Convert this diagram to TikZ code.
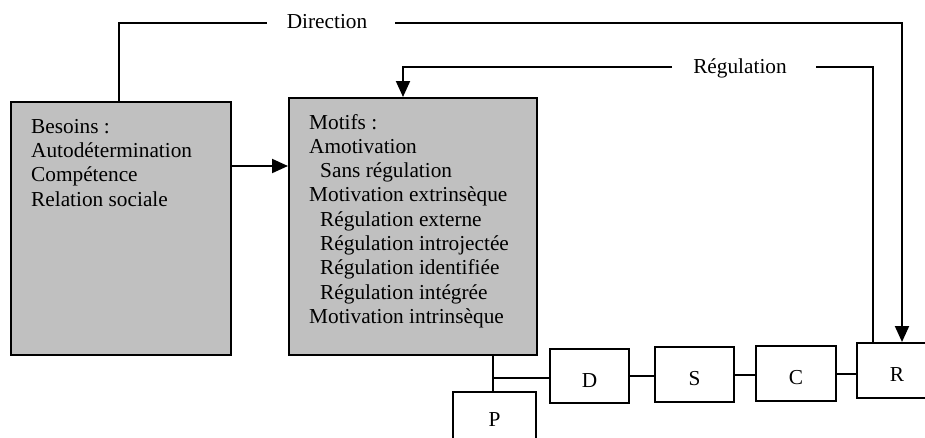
\documentclass[tikz,border=0pt]{standalone}
\usepackage{fontspec}
\setmainfont{Liberation Serif}
\usetikzlibrary{arrows.meta}
\definecolor{boxgray}{HTML}{C0C0C0}
\begin{document}
\begin{tikzpicture}[x=1pt,y=-1pt,
  every node/.style={font=\fontsize{21.3}{24.4}\selectfont},
  conn/.style={line width=2pt},
  arr/.style={-{Triangle[width=14pt,length=16pt]}},
  graybox/.style={draw, line width=2pt, fill=boxgray, inner sep=0pt, anchor=north west},
  smallbox/.style={draw, line width=2pt, fill=white, minimum width=80pt, minimum height=55pt, inner sep=0pt, text height=22pt, text depth=0pt},
  txt/.style={inner sep=0pt, anchor=base west},
  lbl/.style={inner sep=0pt, anchor=base}]
\useasboundingbox (0,0) rectangle (925,437);
\clip (0,0) rectangle (925,437);

% main boxes
\node[graybox, minimum width=220pt, minimum height=253pt] (besoins) at (10,101) {};
\node[graybox, minimum width=248pt, minimum height=257pt] (motifs) at (288,97) {};

\foreach \t [count=\i from 0] in {Besoins :, Autodétermination, Compétence, Relation sociale}
  \node[txt] (bt\i) at (31,133+24.4*\i) {\t};

\foreach \x/\t [count=\i from 0] in {309/Motifs :, 309/Amotivation, 320/Sans régulation,
    309/Motivation extrinsèque, 320/Régulation externe, 320/Régulation introjectée,
    320/Régulation identifiée, 320/Régulation intégrée, 309/Motivation intrinsèque}
  \node[txt] (mt\i) at (\x,129+24.3*\i) {\t};

% small boxes
\node[draw, line width=2pt, fill=white, minimum width=83pt, minimum height=55pt, inner sep=0pt] (P) at (494.5,419.5) {P};
\node[smallbox, minimum width=79pt, minimum height=54pt] (D) at (589.5,376) {D};
\node[smallbox, minimum width=79pt] (S) at (694.5,374.5) {S};
\node[smallbox] (C) at (796,373.5) {C};
\node[smallbox] (R) at (897,370.5) {R};

% labels on feedback lines
\node[lbl] (dirlabel) at (327,28) {Direction};
\node[lbl] (reglabel) at (740,73) {Régulation};

% Besoins -> Motifs
\coordinate (arrY) at (0,166);
\draw[conn, arr] (besoins.east |- arrY) -- (motifs.west |- arrY);

% Direction loop
\coordinate (dirA) at (119,22.5);
\coordinate (dirB) at (902,22.5);
\draw[conn] (besoins.north -| dirA) -- (dirA) -- ([xshift=-20pt]dirA -| dirlabel.west);
\draw[conn, arr] ([xshift=28pt]dirB -| dirlabel.east) -- (dirB) -- (R.north -| dirB);

% Regulation loop
\coordinate (regA) at (873,67);
\coordinate (regB) at (403,67);
\draw[conn] (R.north -| regA) -- (regA) -- ([xshift=29pt]regA -| reglabel.east);
\draw[conn, arr] ([xshift=-21pt]regB -| reglabel.west) -- (regB) -- (motifs.north -| regB);

% chain
\coordinate (pj) at (493,378);
\draw[conn] (motifs.south -| pj) -- (P.north -| pj);
\draw[conn] (pj) -- (D.west |- pj);
\draw[conn] (D.east) -- (D.east -| S.west);
\draw[conn] (S.east) -- (S.east -| C.west);
\draw[conn] (C.east) -- (C.east -| R.west);
\end{tikzpicture}
\end{document}
